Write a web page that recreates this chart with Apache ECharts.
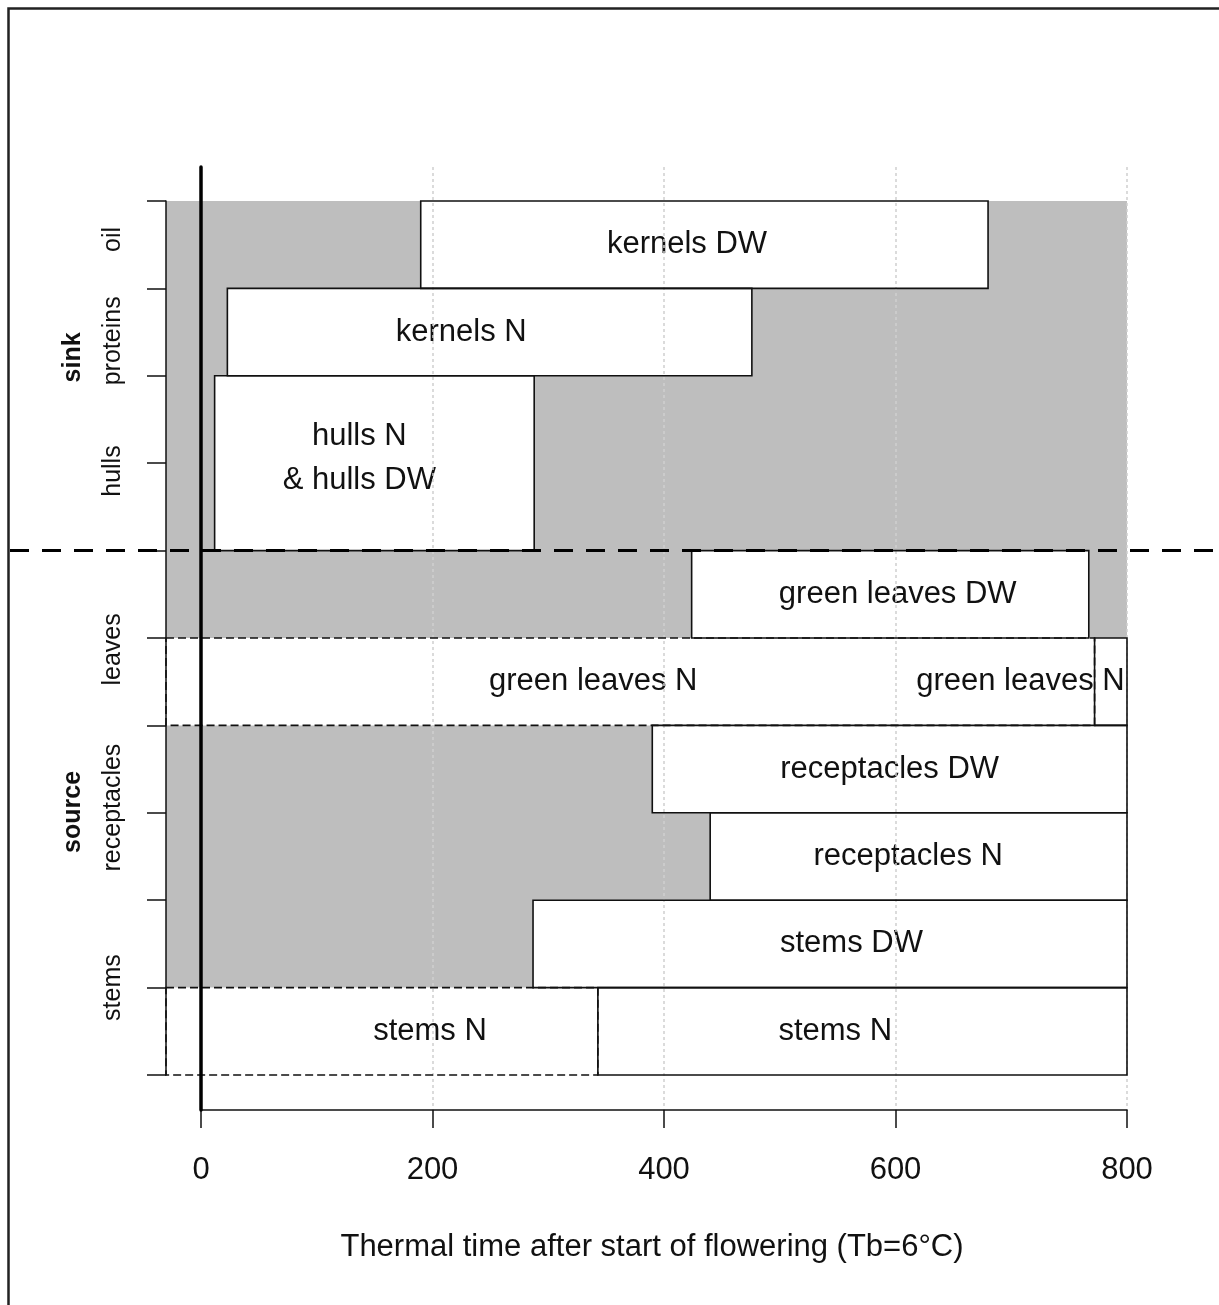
<!DOCTYPE html>
<html>
<head>
<meta charset="utf-8">
<title>Source and sink phases after flowering</title>
<script src="https://cdn.jsdelivr.net/npm/echarts@6/dist/echarts.min.js"></script>
<style>
  html, body { margin: 0; padding: 0; background: #fff; }
  #chart { width: 1219px; height: 1305px; }
</style>
</head>
<body>
<div id="chart"></div>
<script>
// Phases of dry-weight (DW) and nitrogen (N) change per organ, in thermal time (°C·d, Tb=6°C)
const boxLabels = ['kernels DW', 'kernels N', 'hulls N\n& hulls DW', 'green leaves DW',
                   'green leaves N', 'receptacles DW', 'receptacles N', 'stems DW', 'stems N'];
const boxStart  = [190, 23, 12, 424, 772, 390, 440, 287, 343];
const boxEnd    = [680, 476, 288, 767, 800, 800, 800, 800, 800];
const rowLow    = [9, 8, 6, 5, 4, 3, 2, 1, 0];
const rowHigh   = [10, 9, 8, 6, 5, 4, 3, 2, 1];
const boxLabelX = [420, 225, 137, 602, 708, 595, 611, 562, 548];
const boxLabelY = [9.5, 8.5, 7.06, 5.5, 4.5, 3.5, 2.5, 1.5, 0.5];

// Earlier phases drawn with dashed outlines
const dashLabels  = ['green leaves N', 'stems N'];
const dashStart   = [-30, -30];
const dashEnd     = [772, 343];
const dashLow     = [4, 0];
const dashHigh    = [5, 1];
const dashLabelX  = [339, 198];
const dashLabelY  = [4.5, 0.5];

// Organ names and groups along the left side
const organNames = ['oil', 'proteins', 'hulls', 'leaves', 'receptacles', 'stems'];
const organAt    = [9.56, 8.40, 6.91, 4.87, 3.06, 1.00];
const groupNames = ['sink', 'source'];
const groupAt    = [8.21, 3.01];

// Extent of the shaded area and the sink/source divide
const shadeX = [-30, 800];
const shadeY = [0, 10];
const divideAt = 6;

const xTicks = [0, 200, 400, 600, 800];
const xTitle = 'Thermal time after start of flowering (Tb=6°C)';

const FONT = '"Liberation Sans", Arial, Helvetica, sans-serif';
const INK = '#111';

const chart = echarts.init(document.getElementById('chart'), null, { renderer: 'canvas' });

function rectBetween(api, x0, x1, y0, y1) {
  const a = api.coord([x0, y1]);
  const b = api.coord([x1, y0]);
  return { x: a[0], y: a[1], width: b[0] - a[0], height: b[1] - a[1] };
}

// one custom series of rectangles; fill and outline are drawn as separate layers
function boxSeries(starts, ends, lows, highs, z, style) {
  return {
    type: 'custom', xAxisIndex: 0, yAxisIndex: 0, z: z, silent: true, clip: false,
    data: starts.map((s, i) => [s, ends[i], lows[i], highs[i]]),
    renderItem: (params, api) => ({
      type: 'rect',
      shape: rectBetween(api, api.value(0), api.value(1), api.value(2), api.value(3)),
      style: style
    })
  };
}

const dashedStroke = { fill: null, stroke: INK, lineWidth: 1.6, lineDash: [8, 4] };
const solidStroke = { fill: null, stroke: INK, lineWidth: 1.6 };
const whiteFill = { fill: '#fff', stroke: null };

const option = {
  backgroundColor: '#fff',
  animation: false,
  graphic: [{
    type: 'rect',
    shape: { x: 8.5, y: 8.5, width: 1400, height: 1400 },
    style: { fill: null, stroke: '#222', lineWidth: 2.5 },
    silent: true, z: 100
  }],
  grid: [
    { left: 166, right: 92, top: 201, bottom: 230 },
    { left: 201, right: 92, top: 167, bottom: 195 }
  ],
  xAxis: [
    {
      gridIndex: 0, type: 'value', min: shadeX[0], max: shadeX[1],
      axisLine: { show: false }, axisTick: { show: false },
      axisLabel: { show: false }, splitLine: { show: false },
      name: xTitle, nameLocation: 'middle', nameGap: 157,
      nameTextStyle: { fontSize: 31, fontFamily: FONT, color: INK, padding: [0, 0, 0, 11] }
    },
    {
      gridIndex: 1, type: 'value', min: 0, max: 800, interval: 200, z: 5,
      axisLine: { show: true, lineStyle: { color: INK, width: 1.5 } },
      axisTick: { show: true, inside: false, length: 18, lineStyle: { color: INK, width: 1.5 } },
      axisLabel: {
        show: true, margin: 45, fontSize: 31, fontFamily: FONT, color: INK,
        customValues: xTicks
      },
      splitLine: { show: true, lineStyle: { color: '#cfcfcf', width: 1.5, type: [3, 3] } }
    }
  ],
  yAxis: [
    {
      gridIndex: 0, type: 'value', min: shadeY[0], max: shadeY[1], interval: 1, z: 5,
      axisLine: { show: true, onZero: false, lineStyle: { color: INK, width: 1.5 } },
      axisTick: { show: true, inside: false, length: 19, lineStyle: { color: INK, width: 1.5 } },
      axisLabel: { show: false }, splitLine: { show: false }
    },
    {
      gridIndex: 1, type: 'value', min: 0, max: 1, z: 7,
      axisLine: { show: true, lineStyle: { color: '#000', width: 3.5 } },
      axisTick: { show: false }, axisLabel: { show: false }, splitLine: { show: false }
    }
  ],
  series: [
    // shaded period behind the boxes
    boxSeries([shadeX[0]], [shadeX[1]], [shadeY[0]], [shadeY[1]], 1, { fill: '#bebebe', stroke: null }),
    // box fills: dashed phases first, then solid phases
    boxSeries(dashStart, dashEnd, dashLow, dashHigh, 2, whiteFill),
    boxSeries(boxStart, boxEnd, rowLow, rowHigh, 3, whiteFill),
    // box outlines above the grid lines
    boxSeries(dashStart, dashEnd, dashLow, dashHigh, 6, dashedStroke),
    boxSeries(boxStart, boxEnd, rowLow, rowHigh, 6, solidStroke),
    // box captions
    {
      type: 'custom', xAxisIndex: 0, yAxisIndex: 0, z: 4, silent: true, clip: false,
      data: boxLabelX.map((x, i) => [x, boxLabelY[i]])
        .concat(dashLabelX.map((x, i) => [x, dashLabelY[i]])),
      renderItem: (params, api) => {
        const i = params.dataIndex;
        const text = i < boxLabels.length ? boxLabels[i] : dashLabels[i - boxLabels.length];
        const p = api.coord([api.value(0), api.value(1)]);
        return {
          type: 'text', x: p[0], y: p[1],
          style: {
            text: text, fontSize: 31, fontFamily: FONT, fill: INK,
            align: 'center', verticalAlign: 'middle', lineHeight: 44
          }
        };
      }
    },
    // organ names (rotated) on the left
    {
      type: 'custom', xAxisIndex: 0, yAxisIndex: 0, z: 4, silent: true, clip: false,
      data: organAt.map(y => [shadeX[0], y]),
      renderItem: (params, api) => {
        const p = api.coord([api.value(0), api.value(1)]);
        return {
          type: 'text', x: p[0] - 53, y: p[1], rotation: Math.PI / 2,
          style: {
            text: organNames[params.dataIndex], fontSize: 25, fontFamily: FONT, fill: INK,
            align: 'center', verticalAlign: 'middle'
          }
        };
      }
    },
    // sink / source group names
    {
      type: 'custom', xAxisIndex: 0, yAxisIndex: 0, z: 4, silent: true, clip: false,
      data: groupAt.map(y => [shadeX[0], y]),
      renderItem: (params, api) => {
        const p = api.coord([api.value(0), api.value(1)]);
        return {
          type: 'text', x: p[0] - 93, y: p[1], rotation: Math.PI / 2,
          style: {
            text: groupNames[params.dataIndex], fontSize: 25, fontWeight: 'bold',
            fontFamily: FONT, fill: INK, align: 'center', verticalAlign: 'middle'
          }
        };
      }
    },
    // divide between sink and source organs
    {
      type: 'custom', xAxisIndex: 0, yAxisIndex: 0, z: 8, silent: true, clip: false,
      data: [[shadeX[0], divideAt]],
      renderItem: (params, api) => {
        const p = api.coord([api.value(0), api.value(1)]);
        return {
          type: 'line',
          shape: { x1: 10, y1: p[1], x2: api.getWidth(), y2: p[1] },
          style: { stroke: '#000', lineWidth: 3, lineDash: [19, 13] }
        };
      }
    }
  ]
};

chart.setOption(option);
</script>
</body>
</html>
